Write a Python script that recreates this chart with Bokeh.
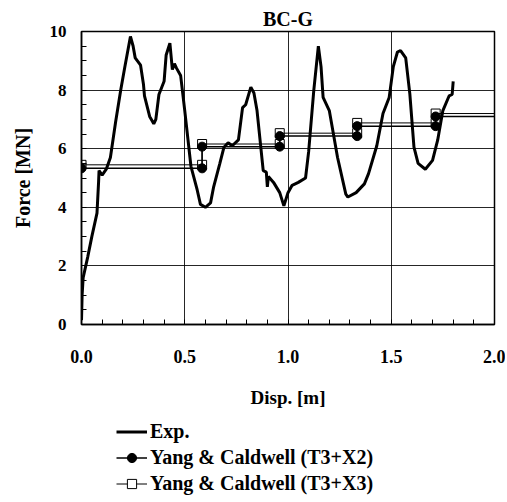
from bokeh.plotting import figure
from bokeh.layouts import column
from bokeh.models import FixedTicker, Legend, LegendItem, Range1d
from bokeh.embed import file_html
from bokeh.resources import INLINE

# ---- data ----
exp_x = [0.0, 0.003, 0.008, 0.03, 0.05, 0.075, 0.083, 0.085, 0.1, 0.12, 0.14, 0.165, 0.19, 0.21,
         0.237, 0.25, 0.26, 0.286, 0.3, 0.305, 0.33, 0.35, 0.36, 0.375, 0.4, 0.41, 0.428, 0.44,
         0.45, 0.46, 0.48, 0.5, 0.53, 0.56, 0.576, 0.6, 0.625, 0.64, 0.67, 0.69, 0.71, 0.73,
         0.76, 0.78, 0.795, 0.82, 0.835, 0.85, 0.88, 0.895, 0.9, 0.905, 0.93, 0.96, 0.98, 1.0,
         1.02, 1.05, 1.085, 1.1, 1.125, 1.147, 1.16, 1.17, 1.2, 1.24, 1.28, 1.29, 1.33, 1.37,
         1.39, 1.43, 1.46, 1.49, 1.51, 1.53, 1.545, 1.57, 1.59, 1.61, 1.63, 1.665, 1.7, 1.725,
         1.75, 1.78, 1.795, 1.8]
exp_y = [0.15, 1.0, 1.6, 2.3, 3.0, 3.8, 4.9, 5.25, 5.1, 5.3, 5.7, 6.9, 8.0, 8.8,
         9.83, 9.5, 9.1, 8.85, 8.2, 7.8, 7.1, 6.85, 7.0, 7.85, 8.3, 9.2, 9.6, 8.7,
         8.9, 8.75, 8.5, 7.3, 5.4, 4.6, 4.1, 4.0, 4.15, 4.7, 5.5, 6.05, 6.2, 6.1,
         6.3, 7.4, 7.5, 8.1, 7.9, 7.3, 5.25, 5.2, 4.7, 5.05, 4.85, 4.5, 4.05, 4.5,
         4.75, 4.85, 5.0, 5.9, 8.0, 9.5, 8.8, 7.75, 7.3, 5.7, 4.45, 4.35, 4.5, 4.8,
         5.15, 6.1, 7.2, 7.75, 8.8, 9.3, 9.35, 9.1, 7.87, 6.05, 5.5, 5.3, 5.6, 6.3,
         7.3, 7.8, 7.85, 8.3]

x2_x = [0.0, 0.584, 0.584, 0.96, 0.96, 1.335, 1.335, 1.715, 1.715, 2.05]
x2_y = [5.33, 5.33, 6.07, 6.07, 6.43, 6.43, 6.77, 6.77, 7.1, 7.1]
x3_x = [0.0, 0.584, 0.584, 0.96, 0.96, 1.335, 1.335, 1.715, 1.715, 2.05]
x3_y = [5.45, 5.45, 6.16, 6.16, 6.53, 6.53, 6.88, 6.88, 7.2, 7.2]

x_ticks = [0.0, 0.5, 1.0, 1.5, 2.0]
x_tick_labels = ["0.0", "0.5", "1.0", "1.5", "2.0"]
x_minor = [0.1, 0.2, 0.3, 0.4, 0.6, 0.7, 0.8, 0.9, 1.1, 1.2, 1.3, 1.4, 1.6, 1.7, 1.8, 1.9]
y_ticks = [0, 2, 4, 6, 8, 10]
y_tick_labels = ["0", "2", "4", "6", "8", "10"]
y_minor = [0.5, 1, 1.5, 2.5, 3, 3.5, 4.5, 5, 5.5, 6.5, 7, 7.5, 8.5, 9, 9.5]

title_text = "BC-G"
x_label = "Disp. [m]"
y_label = "Force [MN]"
names = ["Exp.", "Yang & Caldwell (T3+X2)", "Yang & Caldwell (T3+X3)"]

FONT = "Liberation Serif"

p = figure(width=505, height=412, output_backend="svg", toolbar_location=None,
           x_range=Range1d(0, 2), y_range=Range1d(0, 10),
           min_border_left=81, min_border_top=31, min_border_right=11, min_border_bottom=88)
p.background_fill_color = "white"
p.border_fill_color = "white"
p.outline_line_color = "black"
p.outline_line_width = 1.5

p.title.text = title_text
p.title.align = "center"
p.title.text_font = FONT
p.title.text_font_style = "bold"
p.title.text_font_size = "20px"
p.title.text_color = "black"
p.title.standoff = 3

# axes
for ax in (p.xaxis[0], p.yaxis[0]):
    ax.axis_line_color = "black"
    ax.axis_line_width = 1.5
    ax.major_tick_in = 5
    ax.major_tick_out = 0
    ax.minor_tick_in = 5
    ax.minor_tick_out = 0
    ax.major_tick_line_color = "black"
    ax.minor_tick_line_color = "black"
    ax.major_label_text_font = FONT
    ax.major_label_text_font_style = "bold"
    ax.major_label_text_font_size = "17px"
    ax.major_label_text_color = "black"
    ax.axis_label_text_font = FONT
    ax.axis_label_text_font_style = "bold"
    ax.axis_label_text_font_size = "19px"
    ax.axis_label_text_color = "black"

p.xaxis[0].ticker = FixedTicker(ticks=x_ticks, minor_ticks=x_minor)
p.yaxis[0].ticker = FixedTicker(ticks=y_ticks, minor_ticks=y_minor)
p.xaxis[0].major_label_overrides = dict(zip(x_ticks, x_tick_labels))
p.yaxis[0].major_label_overrides = dict(zip(y_ticks, y_tick_labels))
p.xaxis[0].major_label_text_font_size = "18px"
p.yaxis[0].axis_label_text_font_size = "20px"
p.xaxis[0].major_label_standoff = 25
p.yaxis[0].major_label_standoff = 15
p.xaxis[0].axis_label = x_label
p.yaxis[0].axis_label = y_label
p.xaxis[0].axis_label_standoff = 21
p.yaxis[0].axis_label_standoff = 13

p.xgrid.ticker = FixedTicker(ticks=[0.5, 1.0, 1.5])
p.ygrid.ticker = FixedTicker(ticks=[2, 4, 6, 8])
for g in (p.xgrid[0], p.ygrid[0]):
    g.grid_line_color = "black"
    g.grid_line_width = 1
    g.grid_line_alpha = 0.85

# series
p.line(x3_x, x3_y, line_color="black", line_width=1)
p.scatter(x3_x, x3_y, marker="square", size=9, line_color="black", line_width=1, fill_color=None)
p.line(x2_x, x2_y, line_color="black", line_width=1.5)
p.scatter(x2_x, x2_y, marker="circle", size=9, line_color="black", fill_color="black")
p.line(exp_x, exp_y, line_color="black", line_width=3)

# legend panel (separate figure below the chart); its proxy glyphs lie outside its range
q = figure(width=505, height=88, output_backend="svg", toolbar_location=None,
           x_range=Range1d(10, 11), y_range=Range1d(10, 11),
           x_axis_location=None, y_axis_location=None,
           min_border_left=0, min_border_right=0, min_border_top=0, min_border_bottom=0)
q.grid.visible = False
q.outline_line_color = None
q1 = q.line(x=exp_x[:2], y=exp_y[:2], line_color="black", line_width=3)
q2l = q.line(x=x2_x[:2], y=x2_y[:2], line_color="black", line_width=1.5)
q2m = q.scatter(x=x2_x[:1], y=x2_y[:1], marker="circle", size=9, line_color="black",
                fill_color="black")
q3l = q.line(x=x3_x[:2], y=x3_y[:2], line_color="black", line_width=1)
q3m = q.scatter(x=x3_x[:1], y=x3_y[:1], marker="square", size=8, line_color="black",
                fill_color="white")

legend = Legend(items=[LegendItem(label=names[0], renderers=[q1]),
                       LegendItem(label=names[1], renderers=[q2l, q2m]),
                       LegendItem(label=names[2], renderers=[q3l, q3m])],
                location=(35, 5), padding=0, margin=0, spacing=3,
                glyph_width=31, glyph_height=23, label_height=23, label_standoff=3,
                label_text_font=FONT, label_text_font_style="bold",
                label_text_font_size="20px", label_text_color="black",
                background_fill_alpha=0, border_line_alpha=0)
q.add_layout(legend, "center")

layout = column(p, q, spacing=0)
open("out.html", "w").write(file_html(layout, INLINE))
